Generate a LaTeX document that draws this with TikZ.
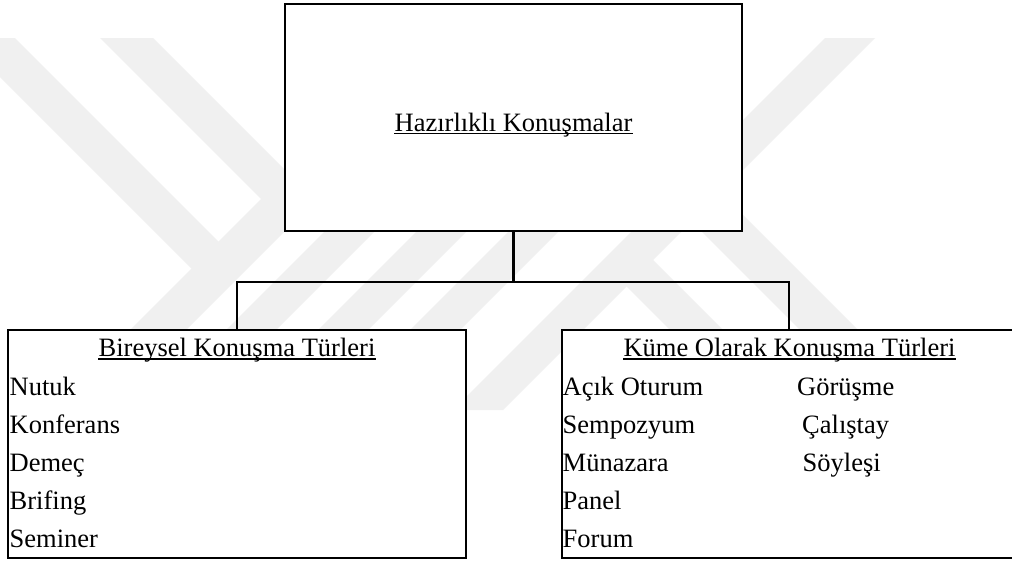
\documentclass[tikz,border=0pt]{standalone}
\usepackage{fontspec}
\setmainfont{Liberation Serif}
\definecolor{wmgray}{gray}{0.94}
\begin{document}
\begin{tikzpicture}[x=1pt,y=-1pt,
  box/.style={draw=black,line width=2.8pt,fill=white,inner sep=0pt},
  txt/.style={inner sep=0pt,anchor=base west,font=\fontsize{26.5}{30}\selectfont},
  hdr/.style={inner sep=0pt,anchor=base,font=\fontsize{26.5}{30}\selectfont},
  ul/.style={line width=1.3pt},
  link/.style={line width=2.8pt},
  wm/.style={fill=wmgray}]
\useasboundingbox (0,0) rectangle (1012,562);
\fill[white] (0,0) rectangle (1012,562);
% watermark
\fill[wm] (-39,38) -- (15,38) -- (233.5,256.5) -- (206.5,283.5) -- cycle;
\fill[wm] (100,38) -- (153,38) -- (315.5,200.5) -- (289,227) -- cycle;
\fill[wm] (287.5,172.5) -- (315.5,200.5) -- (106,410) -- (50,410) -- cycle;
\fill[wm] (356,200) -- (406,200) -- (196,410) -- (146,410) -- cycle;
\fill[wm] (448,200) -- (498,200) -- (288,410) -- (238,410) -- cycle;
\fill[wm] (540,200) -- (590,200) -- (380,410) -- (330,410) -- cycle;
\fill[wm] (825,38) -- (875,38) -- (503,410) -- (453,410) -- cycle;
\fill[wm] (610,270) -- (636.5,243.5) -- (793,400) -- (740,400) -- cycle;
\fill[wm] (675,205) -- (704,176) -- (928,400) -- (870,400) -- cycle;
% boxes
\node[box,minimum width=457pt,minimum height=227pt] (top) at (513.5,117.5) {};
\node[box,minimum width=458pt,minimum height=228pt] (left) at (237,444) {};
\node[box,minimum width=454pt,minimum height=228pt] (right) at (789,444) {};
% connectors
\coordinate (bus) at (513.5,282);
\draw[link] (top.south) -- (bus);
\draw[link] (left.north) |- (bus) -| (right.north);
% texts
\node[hdr] (t0) at (513.5,131) {Hazırlıklı Konuşmalar};
\draw[ul] ([yshift=-2.5pt]t0.base west) -- ([yshift=-2.5pt]t0.base east);
\node[hdr] (h1) at (237,356) {Bireysel Konuşma Türleri};
\draw[ul] ([yshift=-3pt]h1.base west) -- ([yshift=-3pt]h1.base east);
\node[hdr] (h2) at (789.5,356) {Küme Olarak Konuşma Türleri};
\draw[ul] ([yshift=-3pt]h2.base west) -- ([yshift=-3pt]h2.base east);
\node[txt] (a1) at (9.5,395) {Nutuk};
\node[txt] (a2) at (9.5,433) {Konferans};
\node[txt] (a3) at (9.5,471) {Demeç};
\node[txt] (a4) at (9.5,509) {Brifing};
\node[txt] (a5) at (9.5,547) {Seminer};
\node[txt] (b1) at (562.5,395) {Açık Oturum};
\node[txt] (b2) at (562.5,433) {Sempozyum};
\node[txt] (b3) at (562.5,471) {Münazara};
\node[txt] (b4) at (562.5,509) {Panel};
\node[txt] (b5) at (562.5,547) {Forum};
\node[txt] (c1) at (797,395) {Görüşme};
\node[txt] (c2) at (802,433) {Çalıştay};
\node[txt] (c3) at (802.5,471) {Söyleşi};
\end{tikzpicture}
\end{document}
